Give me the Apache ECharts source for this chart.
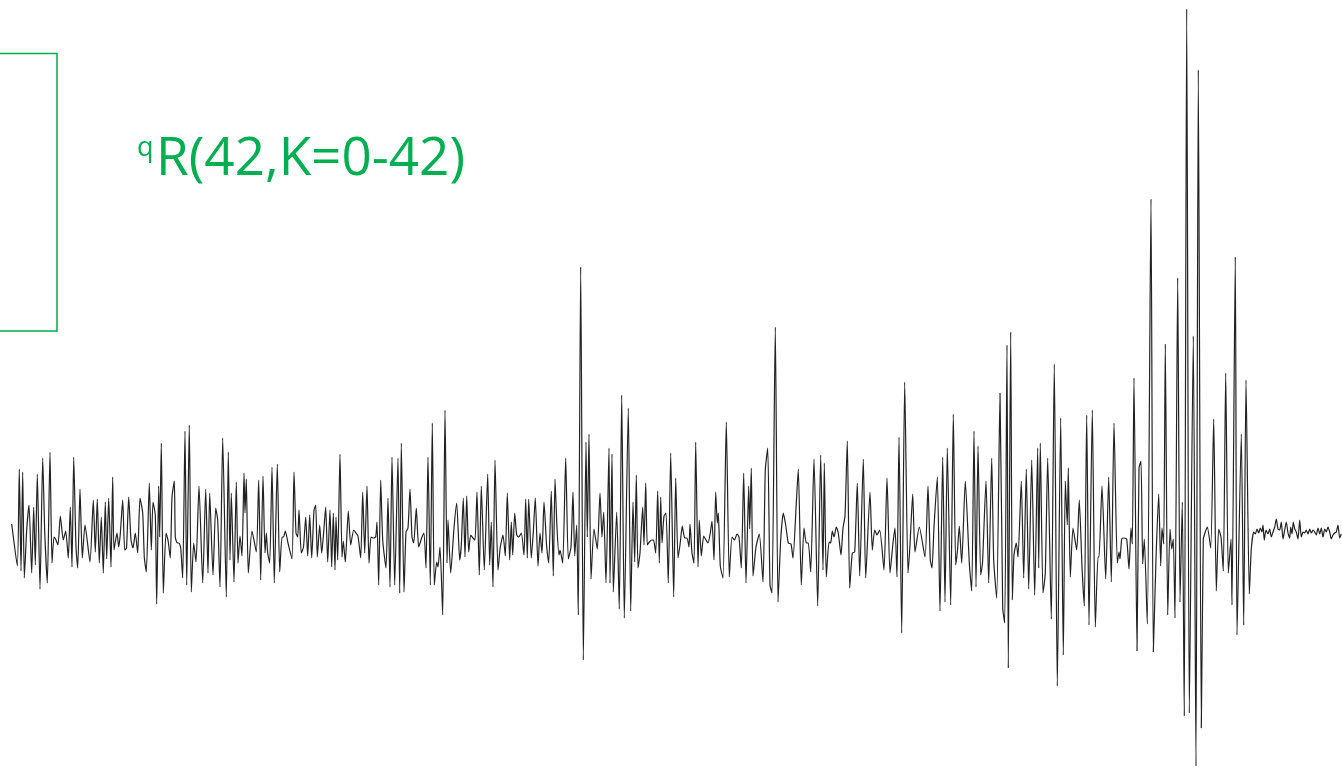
<!DOCTYPE html>
<html>
<head>
<meta charset="utf-8">
<script src="https://cdn.jsdelivr.net/npm/echarts@6/dist/echarts.min.js"></script>
<style>
html,body{margin:0;padding:0;background:#fff;}
#chart{width:1342px;height:768px;}
</style>
</head>
<body>
<div id="chart"></div>
<script>
// Band position (arbitrary units)
const positions = [
11.7,17.3,19.3,21,22.7,24.3,26.7,29,31.7,33.7,35.3,37.3,40,42.7,44.7,47.3,50,52,54,56,58,60.3,63.3,65.7,68.3,70.3,72,73.7,76,77.7,80,82.3,85,90,93.3,95.3,97.3,99.3,101.3,103.3,105.3,106.7,108.7,111,
112.7,114,117,118.7,120.3,122.7,124.7,126.5,128.7,131,133,135.3,137.7,140,142.7,144.3,146.3,149.3,151.3,153,155.3,156.7,158.7,159.7,161.3,163.3,166,168,170.3,172,174.3,175.3,177.3,179,180.7,182.7,185,186.7,189.3,191.3,193.7,196,199,202.7,205.7,208,209.7,213,215.7,217.7,220,222.7,
226.3,228.3,230,231.3,234,236.3,238,240,242,244,245,246.3,248.3,252,256.3,258.7,260.7,263,265,266.3,267.7,269.7,272,274.3,277.3,279.7,282,283.5,285.3,288,292,294,296,297.7,299,301.3,303.5,305.7,307.7,309.7,311.7,314,315.7,317.3,319.7,321.7,324,325.7,327.7,330,331.7,333.3,335,
336,337.7,340,342,343.3,345.3,348.3,350.7,353.7,356,358,360.7,362.7,364.7,367,369,371,373.3,375.7,377,378.7,380.7,382.7,386,388,390,392,394.7,398,399.7,401.3,404,406,408,410,412,413.7,416.3,418.7,422,424,426,428,430.3,432.3,434.3,436.7,438,440,442.7,445,447,
448,450.7,454,456.7,459.7,461.3,463.3,465,466.7,468.7,470.7,473,475,477,479.3,481.3,484.3,487.7,489.7,491.3,493,495,498,500.3,503,505.3,507.3,509.7,511.3,512.7,514.7,516.7,518.7,521.3,524,525.7,527.3,528.7,531.3,533.3,535.3,538,540,542,544,546.7,548.7,551.3,553.3,555,557,559,
560,562.7,565.7,568.3,571,573,574.7,576.7,578.3,580.7,583.3,586,587.3,589,591,594,597.3,600,602,603.7,606,609,610,612,613.3,616.7,619.3,621.7,624.3,628.3,630.7,633,634.7,636.3,638,640,642.7,644,645.7,647.3,649.3,651.7,653.5,655.7,657.7,659.3,660.7,662,664,666,668.3,670.7,
673.7,675.7,678,680,682.3,684.7,687,689,690,692,694,695.7,698,699.3,701.3,703.7,706,708,710.3,712,714,715.7,717.3,718.3,720.3,723,726.3,729.3,732,734.5,737,739,741.3,743.7,746,748.7,749.7,751.3,753,756,759.3,763,765.3,767.7,770,772,775.3,778,780.7,783.3,
785.7,788.3,791,793,796.3,798.3,801.3,804,806.3,808.3,810.7,814,817.7,820.7,823,824.3,826.3,829,830.7,832.3,834,836.3,838.3,841,843,845,847.3,849.7,852.3,854.7,857.3,859.7,863.3,865.7,870,872.3,874.7,877,879.7,884,887,890,893,895,
897,899,901.7,904.7,908,910,912.7,915,919.3,925,928,930.3,932,934,937.3,940,942.7,945,947.3,950.7,953.3,955.7,957.5,959.3,961.7,965.3,969.3,971.7,974,976,978,980.7,982.5,986,988.7,991.7,993.7,996.7,1000,1002.7,1004.7,1007,1008.3,1010.7,
1012.3,1014,1016.3,1018,1021.3,1023.7,1026.3,1028.7,1031.7,1034.7,1037.7,1038.7,1040.3,1043,1045.3,1047.7,1051.3,1054.3,1057.3,1060.7,1063.3,1065.3,1067.3,1068.3,1070.3,1073,1076.7,1079.3,1082,1084.3,1086.7,1089,1092.3,1095.3,1098,1099,1102,1105.7,1108.7,1111.3,1114,1117.3,1119,
1120,1121.7,1124,1126.7,1129,1131,1132.3,1134,1137,1139,1141,1142.7,1144.3,1147.3,1151,1153.3,1156,1158.7,1160.7,1162,1163.7,1165.3,1167.7,1170,1171.7,1173.3,1175,1177.7,1180,1182.3,1184.3,1186.7,1189.3,1193.3,1196,1198.3,1201.3,1203.3,1205.3,1207.3,1210.7,1213.7,1216.3,1218.7,1221,1223.3,1225.7,1228.3,1231,
1232,1235.3,1237,1241.3,1243.7,1246,1249.3,1251.3,1253.7,1255.3,1257,1258.7,1260.3,1262,1263,1264.3,1266,1268,1269.7,1271.3,1273,1274.7,1276.3,1278,1279.7,1281.3,1283,1284.7,1286.3,1288,1289.7,1290.7,1292,1293.3,1294.7,1296.3,1298,1299.7,1301.3,1303,1304.7,1306.3,1308,1309.7,1311.3,1313,1314.7,1316.3,1318,1319.7,1321.3,1323,1324.7,1326.3,1328,1329.7,1331.3,1333,1334.7,1336.3,1338,1339.7,1341.3
];

// Intensity at each position (relative to baseline)
const intensities = [
11,-31,66,-36,63,-43,5,30,-38,28,-30,61,-54,77,4,-48,83,-28,-2,-5,-10,19,-5,4,-23,28,-32,78,-12,-33,46,-23,10,-27,35,-17,36,-28,18,-38,33,-24,37,-32,
58,-15,2,-12,1,35,-15,-13,38,-5,-13,2,-18,37,22,-22,-37,52,-15,33,20,-69,49,-2,92,-58,2,-5,-23,38,54,-2,-8,-8,-13,-43,104,-50,110,-57,-8,-27,49,-48,46,-38,42,-40,27,15,-52,97,
-62,83,-25,42,-47,53,-28,-1,-21,62,22,56,-38,4,-17,55,-45,59,-18,2,-18,-28,68,-48,71,-37,-2,-2,4,-8,-24,63,2,-2,25,-18,-12,18,-21,20,-23,25,30,-22,10,-18,7,28,-27,25,-32,22,-35,
18,-25,81,-22,-6,-27,24,-10,5,2,-1,-23,43,-18,49,-28,-2,-3,-2,13,-50,55,-5,-33,37,-52,78,-50,77,-58,92,-57,3,7,46,-2,-8,27,-12,-2,2,-33,78,-50,112,-50,-27,-32,-12,-80,125,-28,
15,-38,7,32,-25,-10,37,-22,39,-17,0,-3,-5,43,-40,49,-35,61,-30,13,-52,75,-35,-12,0,-21,42,-25,13,-20,22,0,-2,2,-20,36,-23,36,-23,3,37,-31,2,-18,33,-12,-28,44,-41,56,7,-20,
-15,-28,77,-24,-12,43,-21,10,-80,268,-125,93,-2,101,-44,6,-14,42,-2,23,-48,87,-48,81,-57,23,-74,140,-83,127,-76,33,-27,60,-33,-18,28,-10,52,-10,-7,-5,-5,-18,44,-28,38,-8,19,22,-48,82,
-62,57,-23,-10,9,-3,-3,-12,11,-18,-28,93,-32,15,-21,-1,-5,-8,2,14,-25,43,12,22,-31,-43,113,-42,-2,-5,1,-2,-33,62,-48,49,6,67,-41,-12,1,-47,65,87,-50,-58,208,-67,-5,22,
10,-8,-9,-23,32,66,-50,7,-8,-8,-37,76,-71,80,-35,72,-42,-7,-8,4,-2,8,2,-20,7,19,94,-53,-18,-17,52,-41,76,-43,43,-15,5,0,5,-35,57,-38,-8,7,
-42,98,-98,153,-38,-10,41,-17,8,-22,49,-25,-33,8,58,-76,78,-67,87,-70,121,-30,-15,9,-28,54,-28,-56,104,-52,89,-40,-28,54,-48,77,-25,-63,142,-73,-88,190,-133,203,
-65,-20,-8,-22,54,-43,66,-54,75,-60,87,-33,92,-58,-38,77,-84,171,-151,117,-120,54,10,67,-42,7,-15,35,-32,-71,120,-90,125,-92,-22,-22,49,-44,58,-47,112,-28,-17,
-24,-4,-3,-4,-34,7,-9,157,-116,67,74,-29,-4,-89,336,-117,-24,41,-31,7,-9,191,-80,6,-14,-4,-83,257,-67,33,-181,526,-178,199,-231,465,-193,-4,3,8,-13,116,-56,6,-2,-36,162,-38,-4,
-70,278,-100,101,-90,155,-59,-14,3,1,6,2,7,3,10,-5,5,1,6,-2,3,8,16,6,5,13,-4,5,13,2,-3,8,1,13,6,3,-4,15,-2,3,2,5,1,6,2,5,3,0,7,1,7,-2,6,3,8,3,-4,0,2,3,10,-3,1
];

const seriesData = positions.map((p, i) => [p, intensities[i]]);

const chart = echarts.init(document.getElementById('chart'), null, {renderer: 'canvas'});
chart.setOption({
  animation: false,
  backgroundColor: '#ffffff',
  grid: {left: 0, right: 0, top: 0, bottom: 0},
  xAxis: {type: 'value', min: 0, max: 1342, show: false},
  yAxis: {type: 'value', min: -233, max: 535, show: false},
  series: [{
    type: 'line',
    data: seriesData,
    showSymbol: false,
    smooth: 0.2,
    lineStyle: {color: '#222222', width: 1.2},
    silent: true
  }],
  graphic: [
    {
      type: 'rect',
      shape: {x: -5, y: 53.5, width: 62, height: 277.5},
      style: {fill: 'none', stroke: '#00b050', lineWidth: 1.5}
    },
    {
      type: 'text',
      x: 137, y: 148,
      style: {text: 'q', font: '27px "Open Sans"', fill: '#00b050', verticalAlign: 'middle', align: 'left'}
    },
    {
      type: 'text',
      x: 156, y: 160,
      style: {text: 'R(42,K=0-42)', font: '53px "Open Sans"', fill: '#00b050', verticalAlign: 'middle', align: 'left'}
    }
  ]
});
</script>
</body>
</html>
